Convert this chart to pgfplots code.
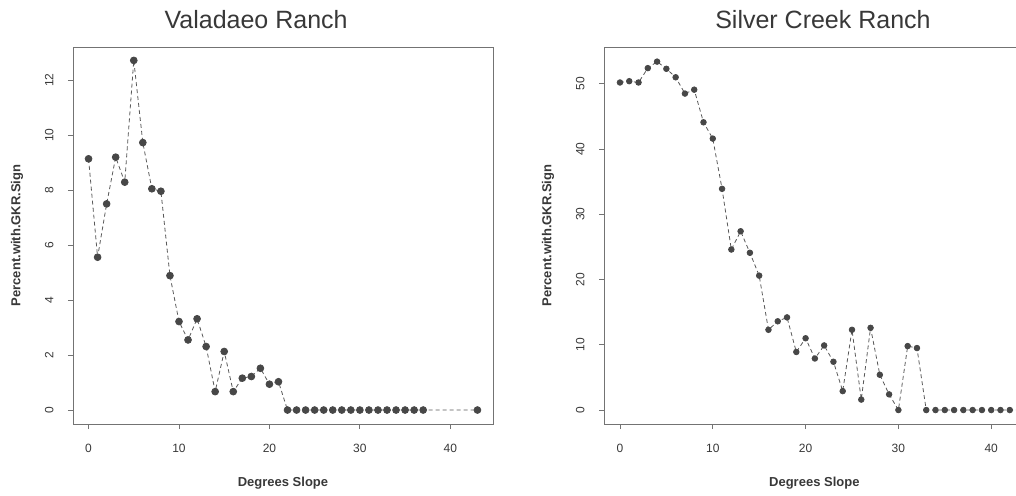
\documentclass[border=0pt]{standalone}
\usepackage{fontspec}
\setmainfont{Liberation Sans}
\usepackage{pgfplots}
\pgfplotsset{compat=1.18}

\definecolor{frame}{gray}{0.45}
\definecolor{ink}{gray}{0.22}
\definecolor{dots}{gray}{0.28}
\definecolor{dash}{gray}{0.35}

\pgfplotsset{
  ranch/.style={
    scale only axis,
    height=377pt,
    xmin=-1.72, xmax=44.72,
    xtick={0,10,20,30,40},
    tick align=outside,
    tick pos=left,
    major tick length=5pt,
    axis line style={frame, line width=0.8pt},
    tick style={frame, line width=0.8pt},
    /pgf/number format/assume math mode=true,
    ticklabel style={font=\fontsize{12}{12}\selectfont, text=ink},
    yticklabel style={rotate=90, anchor=south},
    xticklabel shift=12pt,
    yticklabel shift=11pt,
    xlabel={\bfseries Degrees Slope},
    ylabel={\bfseries Percent.with.GKR.Sign},
    label style={font=\fontsize{13}{13}\selectfont, text=ink},
    title style={font=\fontsize{25}{25}\selectfont, text=ink, anchor=center},
  },
  slope/.style={
    color=dash, line width=0.8pt, dash pattern=on 4pt off 3pt,
    mark=*, mark options={solid, fill=dots, draw=dots},
  },
}

\begin{document}
\begin{tikzpicture}[x=1pt, y=1pt]
\useasboundingbox (0,0) rectangle (1016,495);
\clip (0,0) rectangle (1016,495);

% Valadaeo Ranch
\begin{axis}[
    ranch,
    at={(73pt,71pt)}, anchor=south west,
    width=420pt,
    ymin=-0.508, ymax=13.208,
    ytick={0,2,4,6,8,10,12},
    title={Valadaeo Ranch},
    title style={at={(rel axis cs:0.436,1.058)}},
    xlabel style={at={(rel axis cs:0.5,-0.1565)}, anchor=center},
    ylabel style={at={(rel axis cs:-0.1333,0.5)}, anchor=center},
]
\addplot[slope, mark size=3.4pt] coordinates {
  (0,9.14) (1,5.56) (2,7.50) (3,9.20) (4,8.29) (5,12.72) (6,9.73) (7,8.05)
  (8,7.96) (9,4.89) (10,3.22) (11,2.55) (12,3.32) (13,2.31) (14,0.67)
  (15,2.13) (16,0.67) (17,1.16) (18,1.22) (19,1.52) (20,0.94) (21,1.03)
  (22,0) (23,0) (24,0) (25,0) (26,0) (27,0) (28,0) (29,0) (30,0) (31,0)
  (32,0) (33,0) (34,0) (35,0) (36,0) (37,0) (43,0)
};
\end{axis}

% Silver Creek Ranch
\begin{axis}[
    ranch,
    at={(604pt,71pt)}, anchor=south west,
    width=431pt,
    ymin=-2.14, ymax=55.64,
    ytick={0,10,20,30,40,50},
    title={Silver Creek Ranch},
    title style={at={(rel axis cs:0.508,1.058)}},
    xlabel style={at={(rel axis cs:0.488,-0.1565)}, anchor=center},
    ylabel style={at={(rel axis cs:-0.13,0.5)}, anchor=center},
]
\addplot[slope, mark size=2.8pt] coordinates {
  (0,50.2) (1,50.4) (2,50.2) (3,52.4) (4,53.4) (5,52.3) (6,51.0) (7,48.5)
  (8,49.1) (9,44.1) (10,41.6) (11,33.9) (12,24.6) (13,27.4) (14,24.1)
  (15,20.6) (16,12.3) (17,13.6) (18,14.2) (19,8.9) (20,11.0) (21,7.9)
  (22,9.9) (23,7.4) (24,2.9) (25,12.3) (26,1.6) (27,12.6) (28,5.4)
  (29,2.4) (30,0) (31,9.8) (32,9.5) (33,0) (34,0) (35,0) (36,0) (37,0)
  (38,0) (39,0) (40,0) (41,0) (42,0) (43,0)
};
\end{axis}
\end{tikzpicture}
\end{document}
